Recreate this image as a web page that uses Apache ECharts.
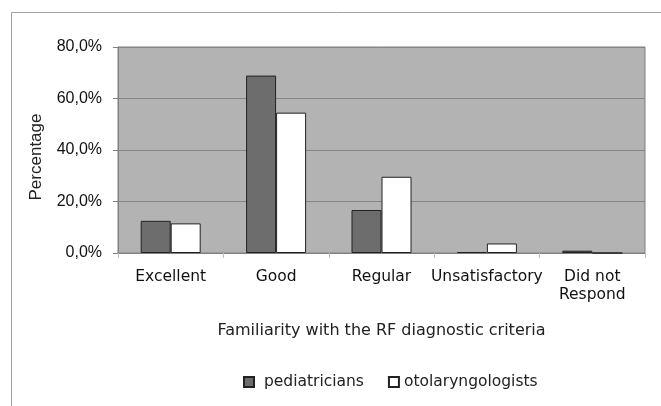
<!DOCTYPE html>
<html>
<head>
<meta charset="utf-8">
<script src="https://cdn.jsdelivr.net/npm/echarts@6/dist/echarts.min.js"></script>
<style>html,body{margin:0;padding:0;background:#fff}#c{width:661px;height:406px}</style>
</head>
<body>
<div id="c"></div>
<script>
var categories = ['Excellent', 'Good', 'Regular', 'Unsatisfactory', 'Did not\nRespond'];
var pediatricians = [12.5, 68.9, 16.7, 0.4, 0.9];
var otolaryngologists = [11.5, 54.5, 29.6, 3.7, 0];
var seriesNames = ['pediatricians', 'otolaryngologists'];
var yAxisTitle = 'Percentage';
var xAxisTitle = 'Familiarity with the RF diagnostic criteria';

var chart = echarts.init(document.getElementById('c'));
chart.setOption({
  animation: false,
  graphic: [{
    type: 'rect', shape: {x: 11.5, y: 12.5, width: 700, height: 450},
    style: {fill: 'none', stroke: '#a0a0a0', lineWidth: 1}, silent: true
  }, {
    type: 'text', x: 36, y: 157, rotation: Math.PI / 2, silent: true,
    style: {text: yAxisTitle, fontFamily: 'Liberation Sans', fontSize: 17, fill: '#222',
      align: 'center', verticalAlign: 'middle'}
  }],
  grid: {left: 118, top: 47, width: 527, height: 206, show: true,
    backgroundColor: '#b3b3b3', borderColor: '#808080', borderWidth: 1},
  legend: {
    data: seriesNames, top: 369, left: 238, itemWidth: 10, itemHeight: 10, itemGap: 24,
    icon: 'rect',
    formatter: function (n) { return n === 'pediatricians' ? ' ' + n : n; },
    textStyle: {fontFamily: 'DejaVu Sans', fontSize: 15.5, color: '#222'}
  },
  xAxis: {
    type: 'category', data: categories,
    name: xAxisTitle,
    nameLocation: 'middle', nameGap: 70,
    nameTextStyle: {fontFamily: 'DejaVu Sans', fontSize: 16, color: '#222'},
    axisLine: {lineStyle: {color: '#808080'}},
    axisTick: {show: true, length: 5, lineStyle: {color: '#bbb'}},
    axisLabel: {fontFamily: 'DejaVu Sans', fontSize: 15.5, color: '#111', margin: 15, lineHeight: 18, interval: 0}
  },
  yAxis: {
    type: 'value', min: 0, max: 80, interval: 20,
    axisLine: {show: true, lineStyle: {color: '#808080'}},
    axisTick: {show: true, length: 5, lineStyle: {color: '#808080'}},
    splitLine: {lineStyle: {color: '#858585'}},
    axisLabel: {fontFamily: 'Liberation Sans', fontSize: 16, color: '#111', margin: 16,
      formatter: function (v) { return v.toFixed(1).replace('.', ',') + '%'; }}
  },
  series: [{
    name: seriesNames[0], type: 'bar', data: pediatricians, barWidth: 30, barGap: '0%',
    itemStyle: {color: '#6d6d6d', borderColor: '#222', borderWidth: 1}
  }, {
    name: seriesNames[1], type: 'bar', data: otolaryngologists, barWidth: 30,
    itemStyle: {color: '#ffffff', borderColor: '#222', borderWidth: 1}
  }]
});
</script>
</body>
</html>
